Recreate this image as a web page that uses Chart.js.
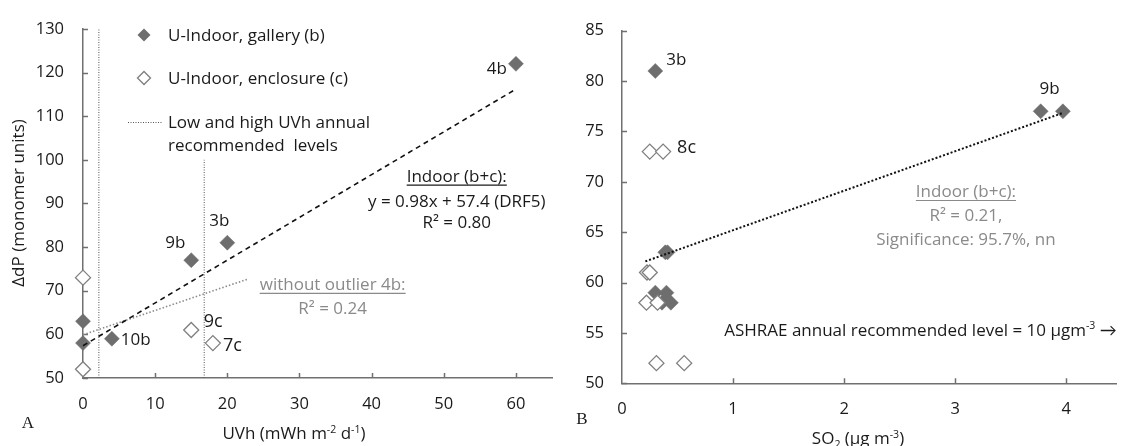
<!DOCTYPE html>
<html>
<head>
<meta charset="utf-8">
<script src="https://cdn.jsdelivr.net/npm/chart.js@4/dist/chart.umd.min.js"></script>
<style>
  html, body { margin: 0; padding: 0; background: #fff; width: 1125px; height: 446px; overflow: hidden; }
  #chartA { position: absolute; left: 0; top: 0; }
  #chartB { position: absolute; left: 575px; top: 0; }
</style>
</head>
<body>
<canvas id="chartA" width="575" height="446"></canvas>
<canvas id="chartB" width="550" height="446"></canvas>
<script>
// ---- Panel A: UVh dose against loss of polymerisation (ΔdP) ----
const uvhGalleryX = [0, 0, 4, 15, 20, 60];
const uvhGalleryY = [58, 63, 59, 77, 81, 122];
const uvhGalleryNames = ['', '', '10b', '9b', '3b', '4b'];
const uvhEnclosureX = [0, 0, 15, 18];
const uvhEnclosureY = [73, 52, 61, 58];
const uvhEnclosureNames = ['', '', '9c', '7c'];
const uvhFitSlope = 0.98;
const uvhFitIntercept = 57.4;
const uvhFitRangeX = [0, 60];
const uvhNoOutlierX = [0, 22.9];
const uvhNoOutlierY = [59.9, 72.7];
const uvhLevelX = [2.2, 16.8];
const uvhLevelTop = [130, 100];
const uvhTicks = [0, 10, 20, 30, 40, 50, 60];
const dpTicksA = [50, 60, 70, 80, 90, 100, 110, 120, 130];

// ---- Panel B: SO2 concentration against ΔdP ----
const so2GalleryX = [0.30, 0.30, 0.40, 0.36, 0.44, 0.39, 0.41, 3.77, 3.97];
const so2GalleryY = [81, 59, 59, 58, 58, 63, 63, 77, 77];
const so2GalleryNames = ['3b', '', '', '', '', '', '', '9b', ''];
const so2EnclosureX = [0.25, 0.37, 0.225, 0.25, 0.22, 0.32, 0.31, 0.56];
const so2EnclosureY = [73, 73, 61, 61, 58, 58, 52, 52];
const so2EnclosureNames = ['', '8c', '', '', '', '', '', ''];
const so2FitX = [0.21, 3.96];
const so2FitY = [62.1, 76.8];
const so2Ticks = [0, 1, 2, 3, 4];
const dpTicksB = [50, 55, 60, 65, 70, 75, 80, 85];

const FONT = '"Open Sans", Lato, "DejaVu Sans", sans-serif';
const TEXT_SIZE = 17;
const INK = '#1a1a1a';
const GREY_TEXT = '#8a8a8a';
const AXIS = '#707070';
const FILLED = '#6e6e6e';
const OPEN = '#7f7f7f';

const pts = (xs, ys) => xs.map((x, i) => ({ x, y: ys[i] }));

function diamonds(label, xs, ys, names, filled, order) {
  return {
    label, data: pts(xs, ys), names, order, clip: false,
    pointStyle: 'rectRot', pointRadius: 7.5, pointHoverRadius: 7.5,
    pointBackgroundColor: filled ? FILLED : '#ffffff',
    pointBorderColor: filled ? FILLED : OPEN,
    pointBorderWidth: filled ? 0.5 : 1.3,
    showLine: false
  };
}

function line(label, data, color, width, dash, order) {
  return {
    label, data, order, showLine: true, clip: false,
    borderColor: color, borderWidth: width, borderDash: dash,
    pointRadius: 0, pointHoverRadius: 0, fill: false
  };
}

// text with optional superscript / subscript pieces: [[text, 'sup'|'sub'|''], ...]
function segs(t) { return typeof t === 'string' ? [[t, '']] : t; }
function richWidth(ctx, parts, fs, fam) {
  let w = 0;
  for (const [t, k] of parts) { ctx.font = `${k ? fs * 0.62 : fs}px ${fam}`; w += ctx.measureText(t).width; }
  return w;
}
function drawRich(ctx, text, x, y, o = {}) {
  const parts = segs(text);
  const fs = o.size || TEXT_SIZE;
  const fam = o.family || FONT;
  const align = o.align || 'center';
  ctx.save();
  const w = richWidth(ctx, parts, fs, fam);
  const x0 = align === 'center' ? x - w / 2 : align === 'right' ? x - w : x;
  const base = y + fs * 0.36;
  let cx = x0;
  ctx.fillStyle = o.color || INK;
  ctx.textAlign = 'left';
  ctx.textBaseline = 'alphabetic';
  for (const [t, k] of parts) {
    ctx.font = `${k ? fs * 0.62 : fs}px ${fam}`;
    const dy = k === 'sup' ? -fs * 0.36 : k === 'sub' ? fs * 0.2 : 0;
    ctx.fillText(t, cx, base + dy);
    cx += ctx.measureText(t).width;
  }
  if (o.underline) {
    ctx.strokeStyle = o.color || INK;
    ctx.lineWidth = 1.2;
    ctx.beginPath();
    ctx.moveTo(x0, base + 3.5);
    ctx.lineTo(x0 + w, base + 3.5);
    ctx.stroke();
  }
  ctx.restore();
}

function diamondGlyph(ctx, x, y, r, filled) {
  ctx.save();
  ctx.beginPath();
  ctx.moveTo(x - r, y); ctx.lineTo(x, y - r); ctx.lineTo(x + r, y); ctx.lineTo(x, y + r); ctx.closePath();
  if (filled) { ctx.fillStyle = FILLED; ctx.fill(); }
  else { ctx.fillStyle = '#fff'; ctx.fill(); ctx.strokeStyle = OPEN; ctx.lineWidth = 1.3; ctx.stroke(); }
  ctx.restore();
}

// short tick marks pointing into the plot area
const innerTicks = {
  id: 'innerTicks',
  beforeDatasetsDraw(chart) {
    const { ctx, chartArea: a, scales: { x, y } } = chart;
    ctx.save();
    ctx.strokeStyle = AXIS; ctx.lineWidth = 1.5;
    ctx.beginPath();
    for (const t of y.ticks) {
      const py = Math.round(y.getPixelForValue(t.value)) + 0.5;
      ctx.moveTo(a.left, py); ctx.lineTo(a.left + 5, py);
    }
    for (const t of x.ticks) {
      if (t.value === x.min) continue;
      const px = Math.round(x.getPixelForValue(t.value)) + 0.5;
      ctx.moveTo(px, a.bottom); ctx.lineTo(px, a.bottom - 5);
    }
    ctx.stroke();
    ctx.restore();
  }
};

// names next to individual samples
const sampleNames = {
  id: 'sampleNames',
  afterDatasetsDraw(chart, args, opts) {
    const ctx = chart.ctx;
    chart.data.datasets.forEach((ds, di) => {
      if (!ds.names) return;
      const meta = chart.getDatasetMeta(di);
      ds.names.forEach((n, i) => {
        if (!n) return;
        const p = opts.place[n] || { align: 'left', dx: 10, dy: 0 };
        const el = meta.data[i];
        drawRich(ctx, n, el.x + p.dx, el.y + p.dy, { align: p.align, size: p.size || TEXT_SIZE });
      });
    });
  }
};

// free text placed in data coordinates
const notes = {
  id: 'notes',
  afterDraw(chart, args, opts) {
    const { ctx, scales: { x, y } } = chart;
    for (const n of opts.items) {
      drawRich(ctx, n.text, x.getPixelForValue(n.x), y.getPixelForValue(n.y), n);
    }
    if (opts.extra) opts.extra(ctx, chart);
  }
};

function axisOpts(min, max, tickList, fitSize, padding, isY) {
  return {
    type: 'linear', min, max,
    afterBuildTicks: s => { s.ticks = tickList.map(v => ({ value: v })); },
    afterFit: s => { if (isY) s.width = fitSize; else s.height = fitSize; },
    grid: { display: false, drawTicks: false, tickLength: 0 },
    border: { display: true, color: AXIS, width: 1.5 },
    ticks: { font: { family: FONT, size: 16.5 }, color: INK, padding, maxRotation: 0, autoSkip: false }
  };
}

Chart.defaults.font.family = FONT;

// ---------- Panel A ----------
new Chart(document.getElementById('chartA'), {
  type: 'scatter',
  data: {
    datasets: [
      line('Indoor fit', uvhFitRangeX.map(v => ({ x: v, y: uvhFitSlope * v + uvhFitIntercept })), '#111', 1.6, [5, 4], -2),
      line('Without 4b', pts(uvhNoOutlierX, uvhNoOutlierY), '#8c8c8c', 1.6, [1.5, 2], -1),
      line('UVh low', [{ x: uvhLevelX[0], y: 50 }, { x: uvhLevelX[0], y: uvhLevelTop[0] }], '#555', 1, [1, 1.5], 3),
      line('UVh high', [{ x: uvhLevelX[1], y: 50 }, { x: uvhLevelX[1], y: uvhLevelTop[1] }], '#555', 1, [1, 1.5], 3),
      diamonds('U-Indoor, enclosure (c)', uvhEnclosureX, uvhEnclosureY, uvhEnclosureNames, false, 1),
      diamonds('U-Indoor, gallery (b)', uvhGalleryX, uvhGalleryY, uvhGalleryNames, true, 2)
    ]
  },
  options: {
    responsive: false, animation: false, events: [],
    layout: { padding: { left: 0, top: 22.7, right: 23, bottom: 0 } },
    scales: {
      x: axisOpts(0, 65, uvhTicks, 68, 16, false),
      y: axisOpts(50, 130, dpTicksA, 83, 19, true)
    },
    plugins: {
      legend: { display: false }, tooltip: { enabled: false },
      sampleNames: {
        place: {
          '4b': { align: 'right', dx: -9, dy: 4 },
          '3b': { align: 'center', dx: -8, dy: -23 },
          '9b': { align: 'center', dx: -16, dy: -18 },
          '10b': { align: 'left', dx: 9, dy: 0 },
          '9c': { align: 'center', dx: 22, dy: -9, size: 18 },
          '7c': { align: 'left', dx: 10, dy: 1, size: 18 }
        }
      },
      notes: {
        items: [
          { text: 'Indoor (b+c):', x: 51.8, y: 96.4, underline: true },
          { text: 'y = 0.98x + 57.4 (DRF5)', x: 51.8, y: 90.5 },
          { text: 'R² = 0.80', x: 51.8, y: 85.8 },
          { text: 'without outlier 4b:', x: 34.6, y: 71.6, underline: true, color: GREY_TEXT },
          { text: 'R² = 0.24', x: 34.6, y: 66.0, color: GREY_TEXT }
        ],
        extra(ctx) {
          // legend
          diamondGlyph(ctx, 144, 35, 6.5, true);
          diamondGlyph(ctx, 144, 78, 6.5, false);
          ctx.save();
          ctx.strokeStyle = '#555'; ctx.lineWidth = 1; ctx.setLineDash([1, 1.5]);
          ctx.beginPath(); ctx.moveTo(128, 122.5); ctx.lineTo(162, 122.5); ctx.stroke();
          ctx.restore();
          drawRich(ctx, 'U-Indoor, gallery (b)', 168, 35, { align: 'left' });
          drawRich(ctx, 'U-Indoor, enclosure (c)', 168, 78, { align: 'left' });
          drawRich(ctx, 'Low and high UVh annual', 168, 122, { align: 'left' });
          drawRich(ctx, 'recommended  levels', 168, 145, { align: 'left' });
          // axis titles
          drawRich(ctx, [['UVh (mWh m', ''], ['-2', 'sup'], [' d', ''], ['-1', 'sup'], [')', '']], 294, 433);
          ctx.save();
          ctx.translate(18, 203); ctx.rotate(-Math.PI / 2);
          drawRich(ctx, 'ΔdP (monomer units)', 0, 0);
          ctx.restore();
          drawRich(ctx, 'A', 28, 422, { family: '"Liberation Serif", "DejaVu Serif", serif', size: 17 });
        }
      }
    }
  },
  plugins: [innerTicks, sampleNames, notes]
});

// ---------- Panel B ----------
new Chart(document.getElementById('chartB'), {
  type: 'scatter',
  data: {
    datasets: [
      line('Indoor fit', pts(so2FitX, so2FitY), '#111', 2, [2, 2], -1),
      diamonds('U-Indoor, enclosure (c)', so2EnclosureX, so2EnclosureY, so2EnclosureNames, false, 1),
      diamonds('U-Indoor, gallery (b)', so2GalleryX, so2GalleryY, so2GalleryNames, true, 2)
    ]
  },
  options: {
    responsive: false, animation: false, events: [],
    layout: { padding: { left: 0, top: 30.7, right: 2, bottom: 0 } },
    scales: {
      x: axisOpts(0, 4.45, so2Ticks, 62.7, 16, false),
      y: axisOpts(50, 85, dpTicksB, 47, 18, true)
    },
    plugins: {
      legend: { display: false }, tooltip: { enabled: false },
      sampleNames: {
        place: {
          '3b': { align: 'left', dx: 11, dy: -12 },
          '8c': { align: 'left', dx: 14, dy: -5, size: 18 },
          '9b': { align: 'center', dx: 9, dy: -23 }
        }
      },
      notes: {
        items: [
          { text: 'Indoor (b+c):', x: 3.097, y: 69.1, underline: true, color: GREY_TEXT },
          { text: 'R² = 0.21,', x: 3.097, y: 66.7, color: GREY_TEXT },
          { text: 'Significance: 95.7%, nn', x: 3.097, y: 64.3, color: GREY_TEXT },
          { text: [['ASHRAE annual recommended level = 10 µgm', ''], ['-3', 'sup'], [' →', '']], x: 0.92, y: 55.35, align: 'left' }
        ],
        extra(ctx) {
          drawRich(ctx, [['SO', ''], ['2', 'sub'], [' (µg m', ''], ['-3', 'sup'], [')', '']], 283, 438);
          drawRich(ctx, 'B', 7, 418, { family: '"Liberation Serif", "DejaVu Serif", serif', size: 17 });
        }
      }
    }
  },
  plugins: [innerTicks, sampleNames, notes]
});
</script>
</body>
</html>
